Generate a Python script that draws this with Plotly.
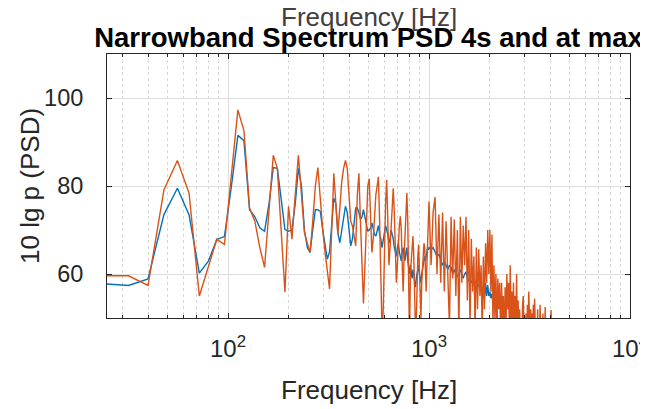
import plotly.graph_objects as go

# ---- data ----
# Low-frequency part: bins every 8 Hz starting at 24 Hz
F0_A, DF_A = 24, 8
orange_a = [
    59.6, 59.6, 57.4, 79.1, 85.8, 78.4, 55.0, 61.5,
    67.9, 66.7, 83.0, 97.3, 92.6, 75.0, 72.0, 66.0,
    61.5, 75.0, 87.0, 84.0, 70.0, 55.9, 75.4, 67.9,
    78.0, 87.0, 78.0, 69.4, 67.0, 64.9, 72.0, 80.0,
    84.2, 76.0, 70.0, 64.9, 60.0, 56.6, 70.0, 82.9,
    76.0, 69.0, 75.0, 81.0, 84.0, 85.8, 84.0, 78.0,
    72.0, 70.9, 68.0, 66.4, 78.0, 82.9, 72.0, 60.0,
    53.3, 62.0, 72.0, 80.0, 81.7, 72.0, 64.9, 68.0,
    74.0, 78.0, 80.0, 82.1, 72.0, 58.0, 47.0, 52.0,
    68.0, 76.0, 81.4, 72.0, 62.0, 66.0, 70.0, 76.0,
    79.5, 74.0, 64.0, 58.0, 62.0, 68.0, 71.0, 73.1,
    70.0, 62.0, 56.0, 64.0, 70.0, 75.0, 78.4, 72.0,
    48.0, 45.0, 60.0, 64.0, 66.0, 68.6, 64.0, 58.0,
    47.0, 49.0, 62.0, 64.0, 66.7, 62.0, 56.0, 50.0,
    58.0, 62.0, 64.0, 67.0, 66.0, 60.0, 56.0, 62.0,
    68.0, 72.0, 76.5,
]
blue_a = [
    57.8, 57.4, 58.9, 73.5, 79.5, 73.5, 60.2, 63.0,
    67.9, 68.5, 80.0, 91.5, 90.3, 74.6, 73.0, 70.5,
    69.7, 76.0, 84.2, 84.0, 76.9, 70.1, 69.7, 70.0,
    76.0, 84.0, 80.0, 70.0, 66.0, 64.9, 70.0, 74.6,
    74.6, 74.2, 70.0, 66.0, 63.4, 65.0, 72.0, 77.2,
    76.0, 69.4, 67.1, 70.0, 73.0, 75.4, 74.0, 70.0,
    66.4, 68.0, 72.0, 75.0, 75.0, 74.0, 72.4, 73.0,
    74.6, 73.0, 71.0, 69.7, 70.0, 70.5, 71.6, 70.0,
    69.0, 68.6, 70.0, 71.0, 69.0, 68.0, 66.0, 68.0,
    70.0, 71.0, 70.0, 69.0, 67.0, 68.0, 70.0, 69.0,
    68.0, 66.0, 65.0, 64.0, 66.0, 67.0, 65.0, 64.0,
    63.0, 65.0, 66.0, 64.0, 63.0, 65.0, 66.0, 63.0,
    61.0, 60.0, 62.0, 60.0, 59.0, 61.0, 60.0, 58.0,
    57.0, 59.0, 60.0, 61.0, 62.0, 60.0, 59.0, 58.0,
    60.0, 61.0, 62.0, 63.0, 64.0, 63.0, 64.0, 65.0,
    66.0, 65.5, 66.0,
]

# High-frequency part: bins every 24 Hz starting at 1024 Hz
F0_B, DF_B = 1024, 24
orange_b = [
    62, 74, 77.5, 60, 73.5, 58, 74, 56,
    72, 61, 48, 73, 59, 72.4, 55, 70,
    47, 73, 58, 71, 62, 73, 54, 70,
    48, 68, 56, 64, 47, 66, 52, 65.6,
    55, 62, 46, 64, 52, 67, 58, 70,
    60, 70, 56, 69, 48, 62, 50, 60,
    46, 59, 52, 58, 45, 58, 50, 55,
    44, 57, 48, 60, 52, 58, 46, 62,
    50, 56, 44, 58, 47, 55, 48, 60,
    46, 54, 44, 52, 46, 50, 43, 53,
    55, 47, 50, 44, 51, 46, 53, 47,
    56, 50, 45, 52, 44, 51, 47, 53,
    46, 54.4, 48, 44, 50, 45, 52, 46,
    50, 44, 53, 47, 43, 50, 45, 51,
    44, 48, 45, 52.5, 46, 42, 49, 44,
    50, 43, 48, 44, 50, 45, 51.8, 44,
    42,
]
blue_b = [
    65.5, 66, 65, 64, 64.5, 63, 62, 63,
    62, 61, 62, 61.5, 60, 61, 60, 59.5,
    60, 61, 60, 59, 60, 60.5, 59, 58.5,
    59, 58, 58.5, 57.5, 58, 58.5, 57, 57.5,
    58, 56, 55.5, 57, 54.5, 58, 55, 57.5,
    55, 56, 54.5, 55.5, 53.5, 54, 52, 52.5,
    50.5, 49,
]

x_tickvals = [100, 1000, 10000]
x_ticktext = ["10<sup>2</sup>", "10<sup>3</sup>", "10<sup>4</sup>"]
y_tickvals = [60, 80, 100]

title_text = "Narrowband Spectrum PSD 4s and at max"
xlabel = "Frequency [Hz]"
ylabel = "10 lg p (PSD)"

# ---- build series ----
f_orange = [F0_A + DF_A * i for i in range(len(orange_a))] + \
           [F0_B + DF_B * i for i in range(len(orange_b))]
f_blue = [F0_A + DF_A * i for i in range(len(blue_a))] + \
         [F0_B + DF_B * i for i in range(len(blue_b))]
v_orange = orange_a + orange_b
v_blue = blue_a + blue_b

BLUE = "#0072BD"
ORANGE = "#D95319"
TXT = "#262626"

# the page body adds an 8px offset; figure is sized to fit the window after it
W, H = 640, 401
ML, MR, MT, MB = 99, 18, 46, 91
PW, PH = W - ML - MR, H - MT - MB

fig = go.Figure()
fig.add_trace(go.Scatter(x=f_blue, y=v_blue, mode="lines",
                         line=dict(color=BLUE, width=1.4), showlegend=False))
fig.add_trace(go.Scatter(x=f_orange, y=v_orange, mode="lines",
                         line=dict(color=ORANGE, width=1.4), showlegend=False))

font_fam = "Liberation Sans, Arial, sans-serif"

fig.update_layout(
    width=W, height=H,
    margin=dict(l=ML, r=MR, t=MT, b=MB, autoexpand=False),
    paper_bgcolor="white", plot_bgcolor="white",
    font=dict(family=font_fam, size=23, color=TXT),
    title=dict(text="<b>" + title_text + "</b>", x=0.5, xref="paper",
               y=1 - 29.5 / H, yref="container", yanchor="middle", xanchor="center",
               font=dict(family=font_fam, size=27.5, color="black")),
    xaxis=dict(
        type="log", range=[1.398, 4.0], automargin=False,
        tickvals=x_tickvals, ticktext=x_ticktext, ticklabeloverflow="allow",
        showline=True, linecolor=TXT, linewidth=1, mirror="ticks",
        ticks="inside", ticklen=5, tickcolor=TXT, ticklabelstandoff=9,
        showgrid=True, gridcolor="#dcdcdc", gridwidth=1,
        minor=dict(dtick="D1", showgrid=True, gridcolor="#d6d6d6",
                   griddash="dot", ticks="inside", ticklen=3, tickcolor=TXT),
        tickfont=dict(size=24, color=TXT),
        zeroline=False,
    ),
    yaxis=dict(
        range=[50, 110], automargin=False,
        tickvals=y_tickvals, ticklabeloverflow="allow",
        showline=True, linecolor=TXT, linewidth=1, mirror="ticks",
        ticks="inside", ticklen=5, tickcolor=TXT, ticklabelstandoff=18,
        showgrid=True, gridcolor="#dcdcdc", gridwidth=1,
        tickfont=dict(size=23.5, color=TXT),
        zeroline=False,
    ),
)

# axis titles
fig.add_annotation(text=xlabel, xref="paper", yref="paper",
                   x=0.5, y=-(382 - (MT + PH)) / PH, xanchor="center", yanchor="middle",
                   showarrow=False, font=dict(family=font_fam, size=26, color=TXT))
fig.add_annotation(text=ylabel, xref="paper", yref="paper", textangle=-90,
                   x=(22 - ML) / PW, y=0.5, xanchor="center", yanchor="middle",
                   showarrow=False, font=dict(family=font_fam, size=26, color=TXT))

# stray top axis label visible in the reference, overlapping the title
fig.add_annotation(text=xlabel, xref="paper", yref="paper",
                   x=0.5, y=1 + (MT - 9) / PH, xanchor="center", yanchor="middle",
                   showarrow=False, font=dict(family=font_fam, size=26, color="#404040"))

fig.write_html("out.html")
